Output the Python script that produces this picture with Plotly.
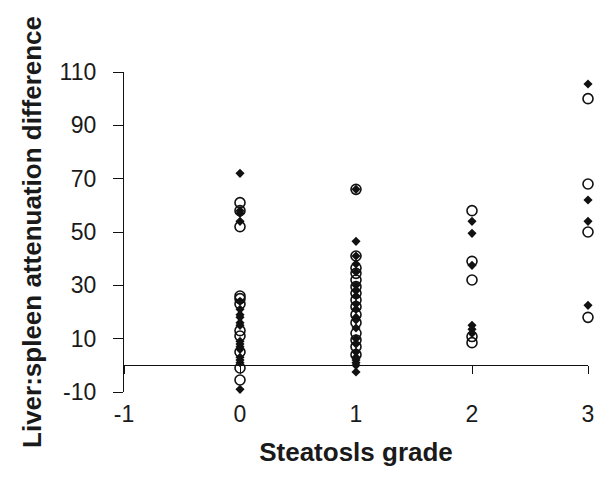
import plotly.graph_objects as go

# Data
grade_open = [0]*11 + [1]*15 + [2]*5 + [3]*4
value_open = [61, 58, 52, 26, 25, 23, 13, 11, 5, -1, -5.5,
              66, 41, 36.5, 34.5, 32, 29.5, 27, 24.5, 22, 19, 16, 12, 9.5, 7, 4,
              58, 39, 32, 10.8, 8.5,
              100, 68, 50, 18]

grade_filled = [0]*18 + [1]*21 + [2]*6 + [3]*4
value_filled = [72, 58, 57, 54, 24, 21, 19, 18, 16, 15, 9, 8, 7, 6, 3, 2, 1, -9,
                66, 46.5, 41, 38, 35, 30, 28, 26, 23, 21, 18, 17, 14, 10, 8, 5, 3, 2, 1, 0, -2.5,
                54, 49.5, 37.5, 15, 13.5, 12,
                105.5, 62, 54, 22.5]

x_ticks = [-1, 0, 1, 2, 3]
x_labels = ["-1", "0", "1", "2", "3"]
y_ticks = [-10, 10, 30, 50, 70, 90, 110]
y_labels = ["-10", "10", "30", "50", "70", "90", "110"]

FONT = "Arial, Liberation Sans, Helvetica, sans-serif"
INK = "#1a1a1a"

fig = go.Figure()
fig.add_trace(go.Scatter(
    x=grade_open, y=value_open, mode="markers", xaxis="x", yaxis="y", cliponaxis=False,
    marker=dict(symbol="circle-open", size=10, color="#111111", line=dict(width=1.6, color="#111111")),
    showlegend=False))
fig.add_trace(go.Scatter(
    x=grade_filled, y=value_filled, mode="markers", xaxis="x2", yaxis="y", cliponaxis=False,
    marker=dict(symbol="diamond", size=7, color="#111111"),
    showlegend=False))

fig.update_layout(
    width=602, height=476,
    margin=dict(l=116, r=22, t=64, b=92),
    paper_bgcolor="white", plot_bgcolor="white",
    font=dict(family=FONT, color=INK),
    xaxis=dict(range=[-1, 3], tickvals=x_ticks, ticktext=x_labels,
               showline=False, showgrid=False, zeroline=False, ticks="",
               ticklabelstandoff=6,
               tickfont=dict(size=23, family=FONT, color=INK),
               title=dict(text="<b>Steatosls grade</b>", font=dict(size=26, family=FONT, color=INK),
                          standoff=16)),
    xaxis2=dict(range=[-1, 3], overlaying="x", anchor="free", position=10/120,
                tickvals=x_ticks, showticklabels=False, showline=True, linecolor="#111111",
                linewidth=1.3, ticks="outside", ticklen=8, tickcolor="#111111", tickwidth=1.3,
                showgrid=False, zeroline=False),
    yaxis=dict(range=[-10, 110], tickvals=y_ticks, ticktext=y_labels, showline=True,
               linecolor="#111111", linewidth=1.3, ticks="outside", ticklen=10,
               tickcolor="#111111", tickwidth=1.3,
               showgrid=False, zeroline=False, ticklabelstandoff=12,
               tickfont=dict(size=23, family=FONT, color=INK),
               title=dict(text="<b>Liver:spleen attenuation difference</b>",
                          font=dict(size=26, family=FONT, color=INK), standoff=10)),
)

fig.write_html("out.html")
